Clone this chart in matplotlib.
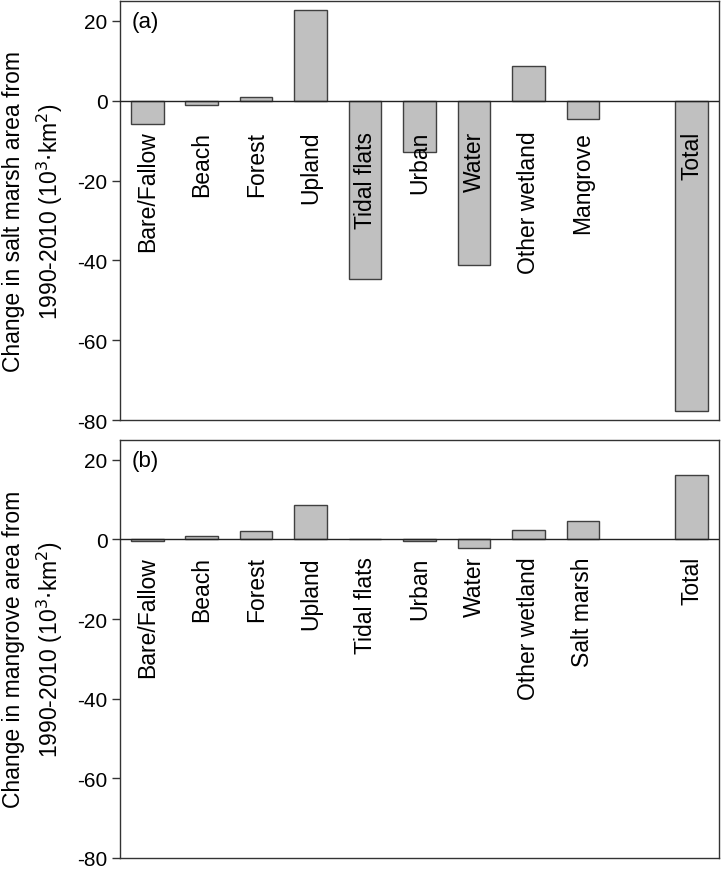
import matplotlib
matplotlib.use("Agg")
import matplotlib.pyplot as plt
import numpy as np

plt.rcParams['font.family'] = ['Liberation Sans', 'DejaVu Sans']
plt.rcParams['axes.unicode_minus'] = False

# данные
pos = [0, 1, 2, 3, 4, 5, 6, 7, 8, 10]
labels_a = ['Bare/Fallow', 'Beach', 'Forest', 'Upland', 'Tidal flats', 'Urban',
            'Water', 'Other wetland', 'Mangrove', 'Total']
values_a = [-5.9, -1.1, 0.9, 22.8, -44.7, -12.9, -41.2, 8.6, -4.7, -77.8]

labels_b = ['Bare/Fallow', 'Beach', 'Forest', 'Upland', 'Tidal flats', 'Urban',
            'Water', 'Other wetland', 'Salt marsh', 'Total']
values_b = [-0.3, 0.9, 2.2, 8.7, 0.1, -0.3, -2.2, 2.3, 4.7, 16.1]

yticks = [-80, -60, -40, -20, 0, 20]

fig = plt.figure(figsize=(7.22, 8.70), dpi=100)
ax_a = fig.add_axes([0.1662, 0.5160, 0.8296, 0.4818])
ax_b = fig.add_axes([0.1662, 0.0130, 0.8296, 0.4801])


def panel(ax, labels, values, tag, ylabel, label_y):
    ax.bar(pos, values, width=0.6, color='#c0c0c0', edgecolor='#404040', linewidth=1.0, zorder=2)
    ax.axhline(0, color='#222222', linewidth=1.0, zorder=3)
    ax.set_xlim(-0.5, 10.5)
    ax.set_ylim(-80, 25)
    ax.set_yticks(yticks)
    ax.set_xticks([])
    ax.tick_params(axis='y', direction='out', length=6, width=1, labelsize=15, color='#333333', pad=3)
    for spine in ax.spines.values():
        spine.set_color('#333333')
        spine.set_linewidth(1.0)
    for x, lab in zip(pos, labels):
        ax.text(x, label_y, lab, rotation=90, ha='center', va='top', fontsize=16.5, zorder=4)
    ax.text(0.02, 0.952, tag, transform=ax.transAxes, ha='left', va='center', fontsize=16)
    ax.set_ylabel(ylabel, fontsize=16.5, linespacing=1.4, labelpad=9)


panel(ax_a, labels_a, values_a, '(a)',
      'Change in salt marsh area from\n1990-2010 (10$^3$$\\cdot$km$^2$)', -7.5)
panel(ax_b, labels_b, values_b, '(b)',
      'Change in mangrove area from\n1990-2010 (10$^3$$\\cdot$km$^2$)', -4.2)

fig.savefig('out.png', dpi=100)
